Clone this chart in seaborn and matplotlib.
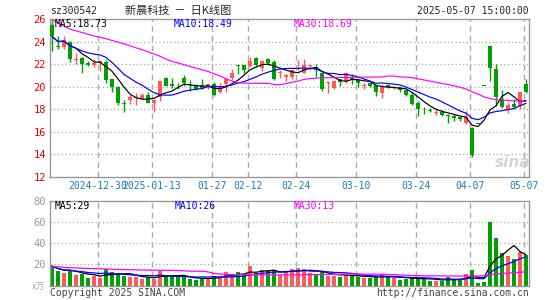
# -*- coding: utf-8 -*-
# 新晨科技 日K线图 (sina style)
import numpy as np
import pandas as pd
import matplotlib
matplotlib.use("Agg")
import matplotlib.pyplot as plt
import seaborn as sns

# ---------------- data ----------------
open_px = [25.5, 23.6, 23.55, 24.0, 22.4, 22.55, 22.1, 21.95, 22.1, 22.2,
           20.65, 20.0, 18.6, 18.8, 19.0, 18.95, 19.3, 18.6, 19.1, 20.8,
           20.2, 20.18, 20.78, 20.2, 20.17, 20.17, 19.94, 20.23, 19.56, 20.2,
           20.73, 21.9, 21.92, 21.84, 22.57, 21.69, 22.48, 22.2, 21.2, 20.9,
           20.82, 21.54, 21.25, 21.84, 21.75, 21.25, 20.37, 19.93, 20.72, 20.52,
           20.9, 20.58, 20.02, 20.37, 20.14, 19.44, 20.14, 19.9, 19.94, 19.67,
           19.29, 18.53, 17.98, 17.95, 17.68, 17.8, 17.45, 17.39, 17.33, 16.8,
           16.34, 16.73, 20.08, 23.59, 21.6, 18.91, 17.98, 18.47, 18.33, 20.25]
high_px = [25.8, 24.45, 24.45, 24.05, 22.95, 22.6, 22.3, 22.45, 22.4, 22.4,
           20.7, 20.05, 18.85, 19.25, 19.45, 19.4, 19.55, 18.9, 20.5, 20.85,
           20.75, 20.37, 21.0, 20.6, 20.2, 20.67, 20.35, 20.43, 20.32, 20.8,
           21.55, 21.93, 21.95, 22.6, 22.65, 22.4, 22.57, 22.4, 21.49, 21.17,
           21.55, 22.4, 22.42, 21.95, 22.04, 21.3, 20.52, 20.6, 20.72, 21.25,
           21.1, 20.75, 20.31, 20.37, 20.14, 20.23, 20.23, 20.08, 19.99, 19.67,
           19.5, 18.74, 18.18, 18.1, 18.03, 17.95, 17.57, 17.57, 17.36, 17.89,
           16.43, 16.73, 20.08, 23.65, 21.98, 19.73, 18.68, 18.91, 19.56, 20.7]
low_px = [23.15, 23.3, 23.3, 22.2, 22.0, 21.2, 21.85, 21.75, 21.4, 20.35,
          19.55, 18.4, 17.75, 18.45, 18.4, 18.9, 18.55, 17.8, 18.7, 20.05,
          19.85, 19.8, 20.05, 19.6, 19.73, 19.79, 19.8, 19.2, 19.44, 19.56,
          20.58, 21.1, 21.2, 21.78, 21.78, 21.4, 21.9, 20.6, 20.76, 20.5,
          20.66, 21.49, 21.19, 21.49, 20.87, 19.64, 19.44, 19.79, 20.08, 20.37,
          20.2, 19.94, 19.79, 19.99, 19.15, 19.03, 19.85, 19.79, 19.5, 19.2,
          18.39, 17.4, 17.54, 17.75, 17.45, 17.39, 16.8, 16.92, 17.0, 16.69,
          13.8, 16.73, 20.08, 20.52, 18.27, 18.1, 17.65, 18.03, 18.03, 19.4]
close_px = [24.45, 23.55, 24.1, 22.45, 22.5, 22.0, 21.95, 22.12, 22.25, 20.6,
            19.95, 18.55, 18.5, 19.1, 19.05, 19.3, 18.55, 18.85, 20.5, 20.1,
            20.1, 20.12, 20.3, 20.15, 19.82, 19.85, 20.23, 19.26, 19.96, 20.64,
            21.22, 21.83, 21.49, 22.25, 21.92, 22.27, 22.07, 20.67, 21.34, 21.0,
            21.5, 21.69, 21.9, 21.95, 21.49, 19.79, 20.46, 20.55, 20.43, 21.19,
            20.6, 20.29, 20.14, 20.08, 19.5, 20.08, 20.0, 19.99, 19.73, 19.29,
            18.47, 18.03, 17.9, 17.83, 17.8, 17.5, 17.39, 17.25, 17.1, 17.3,
            13.94, 16.73, 20.08, 21.69, 19.06, 18.18, 18.42, 18.18, 19.56, 19.55]
volume = [18.5, 13.8, 12.0, 13.8, 10.1, 11.3, 7.2, 9.4, 7.2, 15.4,
          12.9, 11.0, 9.4, 8.2, 8.2, 6.3, 8.2, 6.5, 13.5, 10.1,
          9.0, 8.2, 8.2, 6.0, 5.4, 7.2, 7.2, 9.4, 9.0, 12.9,
          9.0, 12.9, 11.0, 18.5, 11.6, 14.4, 14.4, 14.4, 10.1, 13.2,
          15.5, 16.5, 15.5, 12.0, 10.4, 12.9, 9.5, 9.5, 8.5, 10.4,
          10.4, 7.9, 7.3, 6.9, 8.5, 10.7, 8.5, 6.9, 5.7, 6.3,
          8.2, 6.9, 6.0, 4.7, 4.7, 4.7, 8.2, 5.7, 5.4, 11.0,
          15.0, 2.5, 3.5, 60.0, 45.0, 31.0, 27.5, 25.5, 32.0, 29.0]
ma30_px = [25.9, 25.65, 25.35, 25.1, 24.95, 24.8, 24.65, 24.5, 24.38, 24.25,
           24.1, 23.95, 23.8, 23.62, 23.45, 23.28, 23.1, 22.9, 22.7, 22.45,
           22.25, 22.1, 21.95, 21.8, 21.65, 21.5, 21.35, 21.15, 20.95, 20.7,
           20.5, 20.35, 20.32, 20.3, 20.3, 20.3, 20.3, 20.2, 20.18, 20.28,
           20.4, 20.5, 20.65, 20.72, 20.75, 20.78, 20.8, 20.8, 20.82, 20.82,
           20.82, 20.85, 20.85, 20.85, 20.85, 20.87, 20.95, 20.95, 20.87, 20.85,
           20.8, 20.7, 20.6, 20.5, 20.4, 20.28, 20.2, 20.08, 19.95, 19.8,
           19.55, 19.35, 19.1, 18.95, 18.85, 18.82, 18.78, 18.75, 18.72, 18.69]
ma30_vol = [18.3, 17.8, 17.3, 16.9, 16.7, 16.5, 16.3, 16.1, 15.9, 15.7,
            15.5, 15.3, 15.1, 15.0, 14.9, 14.8, 14.7, 14.6, 14.5, 14.5,
            14.5, 14.3, 14.0, 13.7, 13.6, 13.6, 13.0, 11.5, 11.0, 10.7,
            10.5, 10.4, 10.3, 10.3, 10.2, 10.2, 10.2, 10.2, 10.2, 10.2,
            10.2, 10.3, 10.4, 10.5, 10.5, 10.5, 10.6, 10.7, 10.8, 10.9,
            11.0, 11.0, 10.9, 10.9, 10.8, 10.8, 10.6, 10.4, 10.2, 9.9,
            9.6, 9.5, 9.4, 9.3, 9.3, 9.2, 9.2, 9.1, 9.1, 9.0,
            9.0, 9.1, 9.3, 10.5, 11.0, 11.5, 11.9, 12.3, 12.7, 13.0]

tick_idx = [8, 17, 27, 33, 41, 51, 61, 70, 79]
tick_labels = ["2024-12-30", "2025-01-13", "01-27", "02-12", "02-24",
               "03-10", "03-24", "04-07", "05-07"]
price_ticks = [12, 14, 16, 18, 20, 22, 24, 26]
vol_ticks = [20, 40, 60, 80]

code = "sz300542"
title = "新晨科技  －  日K线图"
stamp = "2025-05-07 15:00:00"
ma_px_text = ["MA5:18.73", "MA10:18.49", "MA30:18.69"]
ma_vol_text = ["MA5:29", "MA10:26", "MA30:13"]

# ---------------- style ----------------
sns.set_style("white")
plt.rcParams["font.family"] = ["DejaVu Sans Mono", "Noto Sans CJK SC"]
RED = "#ff5a5a"
GREEN = "#00a000"
GRID = "#aaaaaa"
MA_COLORS = ["black", "#0000ff", "#ff00ff"]
W, H = 545, 300

df = pd.DataFrame({"o": open_px, "h": high_px, "l": low_px, "c": close_px, "v": volume})
df["x"] = np.arange(len(df))
df["col"] = np.where(df["c"] > df["o"], RED, GREEN)
df["ma5"] = df["c"].rolling(5, min_periods=1).mean()
df["ma10"] = df["c"].rolling(10, min_periods=1).mean()
df["ma30"] = ma30_px
df["vma5"] = df["v"].rolling(5, min_periods=1).mean()
df["vma10"] = df["v"].rolling(10, min_periods=1).mean()
df["vma30"] = ma30_vol

fig = plt.figure(figsize=(W / 100, H / 100), dpi=100)
fig.patch.set_facecolor("white")
ax = fig.add_axes([50 / W, (H - 177) / H, 479 / W, (177 - 19) / H])
axv = fig.add_axes([50 / W, (H - 285.7) / H, 479 / W, 85 / H])

grid_x = [t - 0.3 for t in tick_idx]
for a in (ax, axv):
    a.set_xlim(-0.33, 79.5)
    for gx in grid_x:
        a.axvline(gx, color=GRID, lw=1, dashes=(4, 3), zorder=0)
    for s in a.spines.values():
        s.set_color("#999999")
        s.set_linewidth(1)
    a.tick_params(length=0)

# ---- price panel ----
ax.set_ylim(12, 26)
for yv in price_ticks[1:-1]:
    ax.axhline(yv, color=GRID, lw=0.9, ls=(0, (1, 2)), zorder=0)
ax.vlines(df["x"], df["l"], df["h"], colors=df["col"], lw=1, zorder=2)
body = (df["c"] - df["o"]).abs().clip(lower=0.06)
ax.bar(df["x"], body, bottom=df[["o", "c"]].min(axis=1), width=0.78,
       color=df["col"], linewidth=0, zorder=3)
for col, c in zip(["ma5", "ma10", "ma30"], MA_COLORS):
    sns.lineplot(x=df["x"], y=df[col], color=c, lw=0.85, ax=ax, zorder=4)
ax.set_xlabel("")
ax.set_ylabel("")
ax.set_yticks(price_ticks)
ax.set_yticklabels([str(t) for t in price_ticks], color="#ee0000", fontsize=7.5)
ax.set_xticks(grid_x)
ax.set_xticklabels(tick_labels, color="#1e78c8", fontsize=7)
ax.tick_params(axis="y", pad=3)
ax.tick_params(axis="x", pad=3)
for xt, txt, c in zip([55, 174, 294], ma_px_text, MA_COLORS):
    fig.text(xt / W, 1 - 24 / H, txt, color=c, fontsize=7, va="center", ha="left")
ax.text(76.7, 13.25, "sina", color="#d4d4d4", fontsize=11, style="italic",
        fontweight="bold", ha="center", va="center", zorder=1,
        family="DejaVu Sans")

# ---- volume panel ----
axv.set_ylim(0, 80)
for yv in vol_ticks[:-1]:
    axv.axhline(yv, color=GRID, lw=0.9, ls=(0, (1, 2)), zorder=0)
axv.bar(df["x"], df["v"], width=0.78, color=df["col"], linewidth=0, zorder=2)
for col, c in zip(["vma5", "vma10", "vma30"], MA_COLORS):
    sns.lineplot(x=df["x"], y=df[col], color=c, lw=0.9, ax=axv, zorder=4)
axv.set_xlabel("")
axv.set_ylabel("")
axv.set_xticks([])
axv.set_yticks(vol_ticks)
axv.set_yticklabels([str(t) for t in vol_ticks], color="#999999", fontsize=7.5)
axv.tick_params(axis="y", pad=3)
for xt, txt, c in zip([55, 175, 294], ma_vol_text, MA_COLORS):
    fig.text(xt / W, 1 - 206 / H, txt, color=c, fontsize=7, va="center", ha="left")

# ---- header / footer text ----
fig.text(50 / W, 1 - 11 / H, code, fontsize=7, va="center", ha="left")
fig.text(178 / W, 1 - 11 / H, title, fontsize=8, va="center", ha="center",
         family=["Noto Sans CJK SC", "DejaVu Sans"])
fig.text(529 / W, 1 - 11 / H, stamp, fontsize=7, va="center", ha="right")
fig.text(45 / W, 1 - 287 / H, "x万", fontsize=6.5, color="#aaaaaa", va="center",
         ha="right", family=["Noto Sans CJK SC", "DejaVu Sans"])
fig.text(50 / W, 1 - 292.5 / H, "Copyright 2025 SINA.COM", fontsize=7,
         color="#444444", va="center", ha="left")
fig.text(529 / W, 1 - 292.5 / H, "http://finance.sina.com.cn", fontsize=7,
         color="#444444", va="center", ha="right")

fig.savefig("out.png", dpi=100)
